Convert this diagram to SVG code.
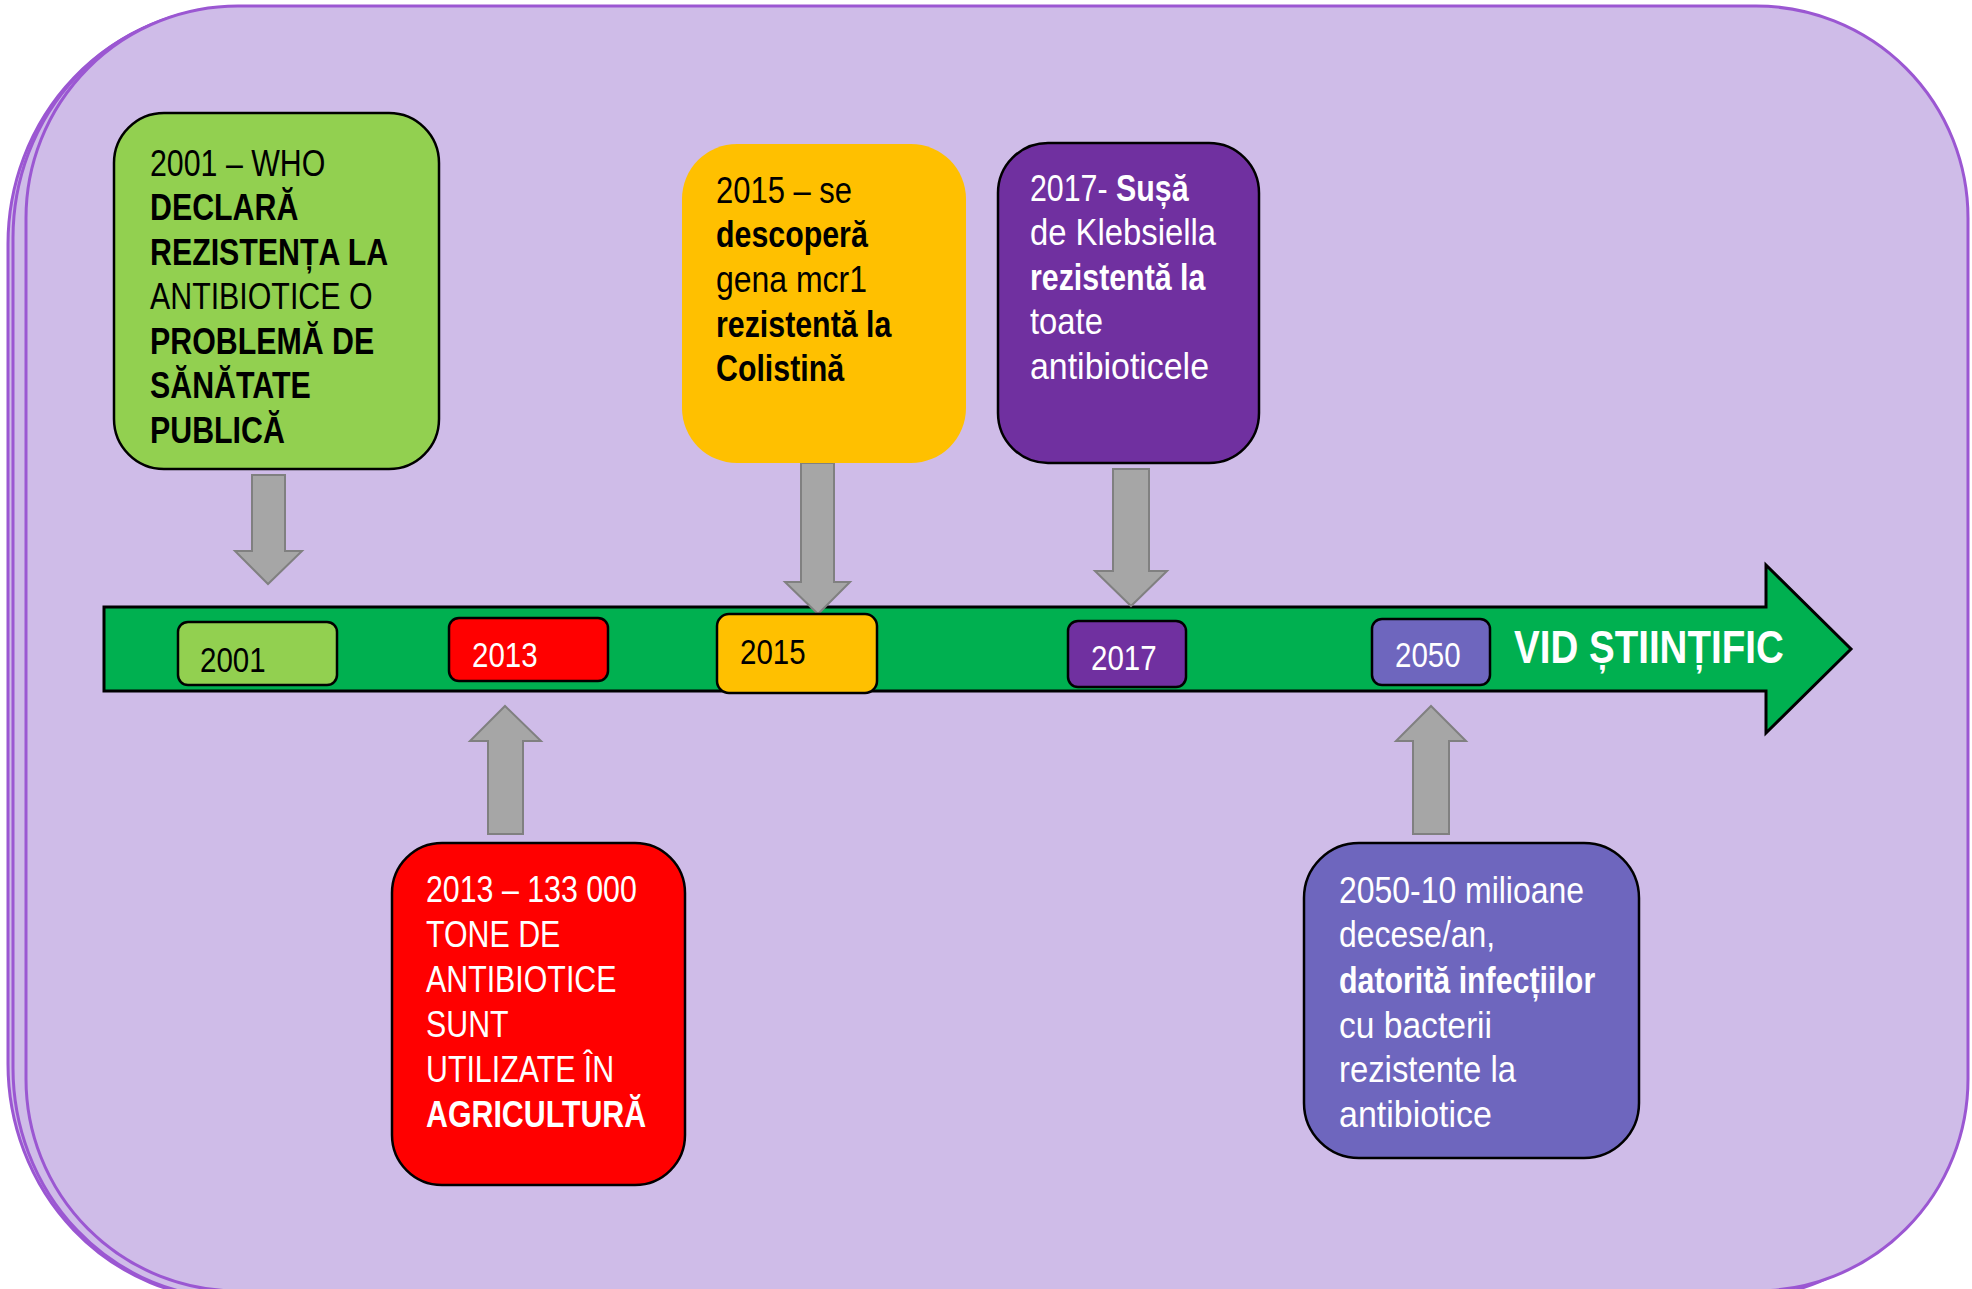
<svg xmlns="http://www.w3.org/2000/svg" width="1972" height="1289" viewBox="0 0 1972 1289">
<style>
.bg{fill:#CFBCE8;stroke:#9B57D2;stroke-width:3}
.box{stroke:#000;stroke-width:2.5}
.t{font-family:'Liberation Sans',Arial,sans-serif;font-size:37px}
.yr{font-family:'Liberation Sans',Arial,sans-serif;font-size:36px}
.b{font-weight:bold}
.k{fill:#000}
.w{fill:#fff}
.ga{fill:#A6A6A6;stroke:#808080;stroke-width:2}
</style>
<rect x="0" y="0" width="1972" height="1289" fill="#fff"/>
<g id="background">
<rect class="bg" x="8" y="9" width="1945" height="1290" rx="225" ry="235"/>
<rect class="bg" x="13" y="8" width="1945" height="1290" rx="220" ry="230"/>
<rect class="bg" x="26" y="6" width="1942" height="1285" rx="212" ry="212"/>
</g>
<g id="timeline">
<polygon points="104,607 1766,607 1766,565 1851,649 1766,733 1766,691 104,691" fill="#00B050" stroke="#000" stroke-width="3"/>
<text class="t b w" transform="translate(1514 0) scale(0.82 1)" x="0" y="663" style="font-size:47px">VID ȘTIINȚIFIC</text>
</g>
<g id="connectors">
<polygon class="ga" points="252,475 285,475 285,551 302,551 268,584 235,551 252,551"/>
<polygon class="ga" points="801,463 834,463 834,582 850,582 818,614 785,582 801,582"/>
<polygon class="ga" points="1113,469 1149,469 1149,571 1167,571 1131,606 1095,571 1113,571"/>
<polygon class="ga" points="488,834 523,834 523,741 541,741 505,706 470,741 488,741"/>
<polygon class="ga" points="1413,834 1449,834 1449,741 1466,741 1431,706 1396,741 1413,741"/>
</g>
<g id="y2001">
<rect class="box" x="178" y="622" width="159" height="63" rx="10" fill="#92D050"/>
<text class="yr k" transform="translate(200 0) scale(0.82 1)" x="0" y="672">2001</text>
</g>
<g id="y2013">
<rect class="box" x="449" y="618" width="159" height="63" rx="10" fill="#FF0000"/>
<text class="yr w" transform="translate(472 0) scale(0.82 1)" x="0" y="667">2013</text>
</g>
<g id="y2015">
<rect class="box" x="717" y="614" width="160" height="79" rx="12" fill="#FFC000"/>
<text class="yr k" transform="translate(740 0) scale(0.82 1)" x="0" y="664">2015</text>
</g>
<g id="y2017">
<rect class="box" x="1068" y="621" width="118" height="66" rx="10" fill="#7030A0"/>
<text class="yr w" transform="translate(1091 0) scale(0.82 1)" x="0" y="670">2017</text>
</g>
<g id="y2050">
<rect class="box" x="1372" y="619" width="118" height="66" rx="10" fill="#6E66BE"/>
<text class="yr w" transform="translate(1395 0) scale(0.82 1)" x="0" y="667">2050</text>
</g>
<g id="n2001">
<rect class="box" x="114" y="113" width="325" height="356" rx="50" fill="#92D050"/>
<text class="t k" transform="translate(150 0) scale(0.82 1)">
<tspan x="0" y="176">2001 – WHO</tspan>
<tspan class="b" x="0" y="220">DECLARĂ</tspan>
<tspan class="b" x="0" y="265">REZISTENȚA LA</tspan>
<tspan x="0" y="309">ANTIBIOTICE O</tspan>
<tspan class="b" x="0" y="354">PROBLEMĂ DE</tspan>
<tspan class="b" x="0" y="398">SĂNĂTATE</tspan>
<tspan class="b" x="0" y="443">PUBLICĂ</tspan>
</text>
</g>
<g id="n2015">
<rect x="682" y="144" width="284" height="319" rx="55" fill="#FFC000"/>
<text class="t k" x="716" y="203" textLength="136" lengthAdjust="spacingAndGlyphs">2015 – se</text>
<text class="t k" x="716" y="292" textLength="151" lengthAdjust="spacingAndGlyphs">gena mcr1</text>
<text class="t k b" transform="translate(716 0) scale(0.82 1)">
<tspan x="0" y="247">descoperă</tspan>
<tspan x="0" y="337">rezistentă la</tspan>
<tspan x="0" y="381">Colistină</tspan>
</text>
</g>
<g id="n2017">
<rect class="box" x="998" y="143" width="261" height="320" rx="50" fill="#7030A0"/>
<text class="t w" transform="translate(1030 0) scale(0.82 1)">
<tspan x="0" y="201">2017- <tspan class="b">Sușă</tspan></tspan>
<tspan class="b" x="0" y="290">rezistentă la</tspan>
</text>
<text class="t w" x="1030" y="245" textLength="186" lengthAdjust="spacingAndGlyphs">de Klebsiella</text>
<text class="t w" x="1030" y="334" textLength="73" lengthAdjust="spacingAndGlyphs">toate</text>
<text class="t w" x="1030" y="379" textLength="179" lengthAdjust="spacingAndGlyphs">antibioticele</text>
</g>
<g id="n2013">
<rect class="box" x="392" y="843" width="293" height="342" rx="50" fill="#FF0000"/>
<text class="t w" transform="translate(426 0) scale(0.82 1)">
<tspan x="0" y="902">2013 – 133 000</tspan>
<tspan x="0" y="947">TONE DE</tspan>
<tspan x="0" y="992">ANTIBIOTICE</tspan>
<tspan x="0" y="1037">SUNT</tspan>
<tspan x="0" y="1082">UTILIZATE ÎN</tspan>
<tspan class="b" x="0" y="1127">AGRICULTURĂ</tspan>
</text>
</g>
<g id="n2050">
<rect class="box" x="1304" y="843" width="335" height="315" rx="55" fill="#6E66BE"/>
<text class="t w" x="1339" y="903" textLength="245" lengthAdjust="spacingAndGlyphs">2050-10 milioane</text>
<text class="t w" x="1339" y="947" textLength="156" lengthAdjust="spacingAndGlyphs">decese/an,</text>
<text class="t w b" transform="translate(1339 0) scale(0.82 1)" x="0" y="993">datorită infecțiilor</text>
<text class="t w" x="1339" y="1038" textLength="153" lengthAdjust="spacingAndGlyphs">cu bacterii</text>
<text class="t w" x="1339" y="1082" textLength="177" lengthAdjust="spacingAndGlyphs">rezistente la</text>
<text class="t w" x="1339" y="1127" textLength="153" lengthAdjust="spacingAndGlyphs">antibiotice</text>
</g>
</svg>
